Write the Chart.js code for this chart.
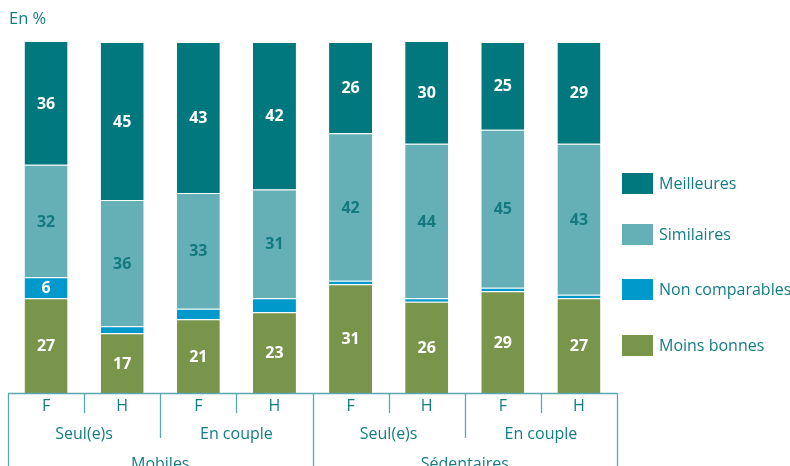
<!DOCTYPE html>
<html><head><meta charset="utf-8">
<script src="https://cdn.jsdelivr.net/npm/chart.js@4/dist/chart.umd.min.js"></script>
<style>html,body{margin:0;padding:0;background:#fff}#w{width:790px;height:466px;position:relative}</style>
</head><body><div id="w"><canvas id="c" width="790" height="466"></canvas></div>
<script>
const categories = ["F","H","F","H","F","H","F","H"];
const subGroups = ["Seul(e)s","En couple","Seul(e)s","En couple"];
const mainGroups = ["Mobiles","Sédentaires"];
const moinsBonnes = [27,17,21,23,31,26,29,27];
const nonComparables = [6,2,3,4,1,1,1,1];
const similaires = [32,36,33,31,42,44,45,43];
const meilleures = [36,45,43,42,26,30,25,29];
const seriesNames = ["Moins bonnes","Non comparables","Similaires","Meilleures"];
const colors = ["#79954c","#0099cc","#65afb7","#00787d"];
const textTeal = "#137d84";
const FONT = "'Open Sans', 'Noto Sans', sans-serif";

const overlay = {
  id:'overlay',
  afterDatasetsDraw(chart){
    const ctx = chart.ctx, x = chart.scales.x, a = chart.chartArea;
    ctx.save();
    // data labels
    ctx.textAlign='center'; ctx.textBaseline='middle';
    ctx.font = "bold 16px "+FONT;
    chart.data.datasets.forEach((ds,di)=>{
      const meta = chart.getDatasetMeta(di);
      meta.data.forEach((el,i)=>{
        const v = ds.data[i];
        if (v < 5) return;
        const top = Math.max(el.y, a.top), bot = el.base;
        ctx.fillStyle = di===2 ? "#137a80" : "#ffffff";
        ctx.fillText(String(v), el.x, (top+bot)/2+1);
      });
    });
    // axis
    const n = categories.length;
    const step = (x.getPixelForValue(1)-x.getPixelForValue(0));
    const left = x.getPixelForValue(0)-step/2;
    const right = x.getPixelForValue(n-1)+step/2;
    const y0 = a.bottom;
    ctx.strokeStyle = "#5aa7ae"; ctx.lineWidth = 1.3;
    ctx.beginPath(); ctx.moveTo(left, y0+0.5); ctx.lineTo(right, y0+0.5); ctx.stroke();
    for (let k=0;k<=n;k++){
      const px = Math.round(left + k*step)+0.5;
      let len = 20;
      if (k%2===0) len = 45;
      if (k%4===0) len = 80;
      ctx.beginPath(); ctx.moveTo(px,y0); ctx.lineTo(px,y0+len); ctx.stroke();
    }
    ctx.fillStyle = textTeal; ctx.font = "16px "+FONT;
    categories.forEach((c,i)=>ctx.fillText(c, x.getPixelForValue(i), y0+13));
    subGroups.forEach((g,i)=>ctx.fillText(g, left + step*(2*i+1), y0+41));
    mainGroups.forEach((g,i)=>ctx.fillText(g, left + step*(4*i+2), y0+71));
    // En %
    ctx.textAlign='left';
    ctx.font = "16.5px "+FONT;
    ctx.fillText("En %", 9, 19);
    // legend
    const order = [3,2,1,0];
    const ly = [183,234,289,345];
    ctx.font = "16px "+FONT;
    order.forEach((si,k)=>{
      ctx.fillStyle = colors[si];
      ctx.fillRect(622, ly[k]-10, 31, 21);
      ctx.fillStyle = textTeal;
      ctx.fillText(seriesNames[si], 659, ly[k]+1);
    });
    ctx.restore();
  }
};

const dataArrays = [moinsBonnes, nonComparables, similaires, meilleures];
new Chart(document.getElementById('c'), {
  type:'bar',
  data:{
    labels: categories.map((c,i)=>i),
    datasets: seriesNames.map((nm,i)=>({
      label:nm, data:dataArrays[i], backgroundColor:colors[i],
      borderColor:"rgba(255,255,255,0.35)", borderWidth:{top:1,bottom:0,left:0,right:0},
      barPercentage:0.565, categoryPercentage:1.0
    }))
  },
  options:{
    responsive:false, animation:false,
    layout:{padding:{left:8,right:173,top:42,bottom:73}},
    plugins:{legend:{display:false},tooltip:{enabled:false}},
    scales:{
      x:{stacked:true, display:false},
      y:{stacked:true, display:false, min:0, max:100}
    }
  },
  plugins:[overlay]
});
</script></body></html>
